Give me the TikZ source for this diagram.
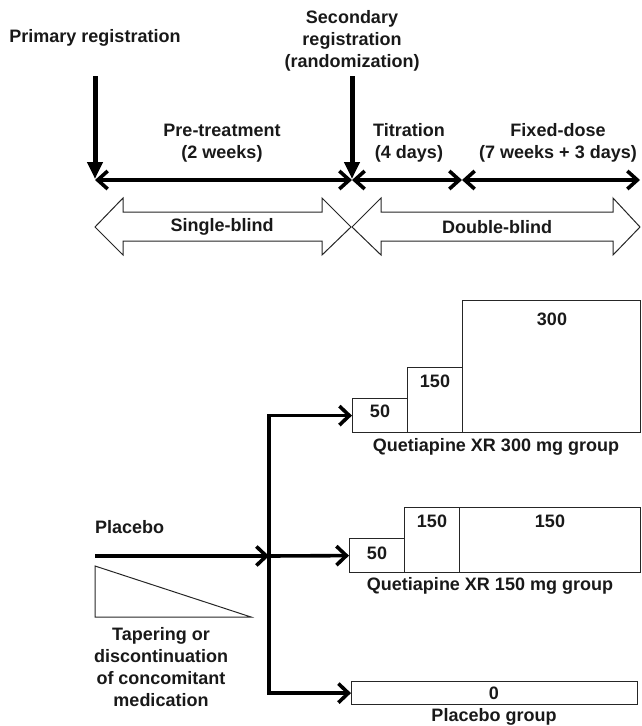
\documentclass[tikz,border=0pt]{standalone}
\usepackage{fontspec}
\setmainfont{Liberation Sans}
\usetikzlibrary{arrows.meta}
\begin{document}
\begin{tikzpicture}[x=1pt,y=-1pt,
  lbl/.style={font=\fontsize{18}{21.8}\selectfont\bfseries, align=center, text=black!90, inner sep=0pt},
  tl/.style={line width=3.6pt, {Straight Barb[length=10pt,width=18pt]}-{Straight Barb[length=10pt,width=18pt]}},
  downarrow/.style={line width=5pt, -{Triangle[length=17pt,width=15pt]}},
  grp/.style={line width=3.6pt, -{Straight Barb[length=10pt,width=19pt]}},
  dose/.style={draw=black!85, line width=1.2pt, inner sep=0pt, anchor=north west},
  blk/.style={draw=black!85, line width=1pt, fill=white},
  tri/.style={draw=black!85, line width=1pt}]
\useasboundingbox (0,0) rectangle (641,726);

% top labels
\node[lbl] (prim) at (95,38) {Primary registration};
\node[lbl] (sec) at (352,41) {Secondary\\registration\\(randomization)};
\node[lbl] (pre) at (222,143) {Pre-treatment\\(2 weeks)};
\node[lbl] (tit) at (409,143) {Titration\\(4 days)};
\node[lbl] (fix) at (558,143) {Fixed-dose\\(7 weeks + 3 days)};

% timeline
\coordinate (t0) at (95,180);
\coordinate (t1) at (352,180);
\coordinate (t2) at (462,180);
\coordinate (t3) at (640,180);
\coordinate (p0) at (95,76);
\coordinate (s0) at (352,76);
\draw[tl] (t0) -- (t1);
\draw[tl] (t1) -- (t2);
\draw[tl] (t2) -- (t3);
\draw[downarrow, shorten >=1pt] (p0) -- (t0);
\draw[downarrow, shorten >=1pt] (s0) -- (t1);

% block arrows
\draw[blk] (95,227) -- (123,198) -- (123,212) -- (322,212) -- (322,198) -- (351,227)
  -- (322,255) -- (322,241) -- (123,241) -- (123,255) -- cycle;
\draw[blk] (352,227) -- (381,198) -- (381,212) -- (613,212) -- (613,198) -- (640,227)
  -- (613,255) -- (613,241) -- (381,241) -- (381,255) -- cycle;
\node[lbl] (sb) at (222,227) {Single-blind};
\node[lbl] (db) at (497,227) {Double-blind};

% Quetiapine 300 group
\node[dose, minimum width=55pt, minimum height=34pt] (a1) at (352,398) {};
\node[dose, minimum width=55pt, minimum height=65pt] (a2) at (407,367) {};
\node[dose, minimum width=178pt, minimum height=132pt] (a3) at (462,300) {};
\node[lbl] (a1t) at (380,411) {50};
\node[lbl] (a2t) at (435,381) {150};
\node[lbl] (a3t) at (552,319) {300};
\node[lbl] (q300) at (496,447) {Quetiapine XR 300 mg group};

% Quetiapine 150 group
\node[dose, minimum width=55pt, minimum height=34pt] (b1) at (349,538) {};
\node[dose, minimum width=55pt, minimum height=65pt] (b2) at (404,507) {};
\node[dose, minimum width=181pt, minimum height=65pt] (b3) at (459,507) {};
\node[lbl] (b1t) at (377,553) {50};
\node[lbl] (b2t) at (432,521) {150};
\node[lbl] (b3t) at (550,521) {150};
\node[lbl] (q150) at (490,586) {Quetiapine XR 150 mg group};

% Placebo group
\node[dose, minimum width=286pt, minimum height=23pt] (c1) at (351,681) {};
\node[lbl] (c1t) at (494,693) {0};
\node[lbl] (pg) at (494,717) {Placebo group};

% placebo lead-in
\node[lbl, anchor=west] (plc) at (95,527) {Placebo};
\coordinate (ps) at (95,556);
\coordinate (j) at (269,556);
\draw[grp] (ps) -- (j);
\draw[grp] (j) |- (a1.west);
\draw[grp] (j) -- (b1.west);
\draw[grp] (j) |- (c1.west);

\draw[tri] (95,566) -- (95,617) -- (251,617) -- cycle;
\node[lbl] (taper) at (161,667) {Tapering or\\discontinuation\\of concomitant\\medication};
\end{tikzpicture}
\end{document}
